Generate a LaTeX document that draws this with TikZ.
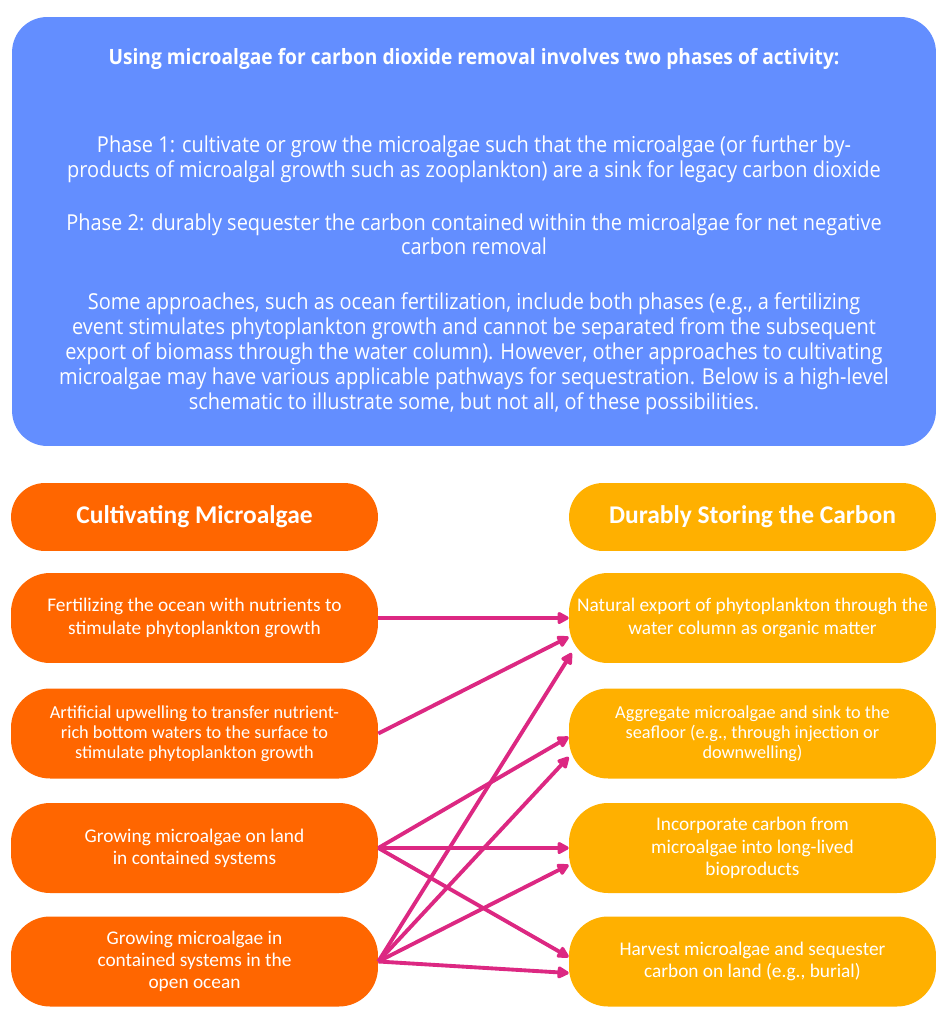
\documentclass[tikz,border=0pt]{standalone}
\usepackage{fontspec}
\setmainfont{Carlito}
\newfontfamily\introfont[FakeStretch=0.91]{Open Sans}
\usetikzlibrary{arrows.meta}

\definecolor{introblue}{HTML}{638EFF}
\definecolor{groworange}{HTML}{FF6600}
\definecolor{storeyellow}{HTML}{FFB000}
\definecolor{linkpink}{HTML}{DC2882}

\begin{document}
\begin{tikzpicture}[x=0.02cm, y=-0.02cm,
    pill/.style={rounded corners=0.78cm, minimum width=7.34cm, minimum height=1.8cm,
        align=center, text=white, inner sep=0pt, font=\fontsize{11}{12.7}\selectfont},
    headbox/.style={pill, rounded corners=0.68cm, minimum height=1.36cm,
        font=\bfseries\fontsize{14.5}{17}\selectfont},
    smalltext/.style={font=\fontsize{10.4}{11.4}\selectfont},
    growbox/.style={pill, fill=groworange},
    storebox/.style={pill, fill=storeyellow},
    link/.style={-{Triangle[length=7.5pt, width=7.5pt, round]}, linkpink, line width=2.2pt}]
        \useasboundingbox (0,0) rectangle (950,1024);

        \node[fill=introblue, rounded corners=0.7cm, minimum width=18.48cm, minimum height=8.58cm,
            text=white, align=center, font=\introfont\fontsize{12.5}{14.2}\selectfont] (intro) at (474,231.5)
            {{\bfseries\fontsize{12}{14.2}\selectfont Using microalgae for carbon dioxide removal involves two phases of activity:}\\[1.26cm]
            Phase 1: cultivate or grow the microalgae such that the microalgae (or further by-\\
            products of microalgal growth such as zooplankton) are a sink for legacy carbon dioxide\\[0.56cm]
            Phase 2: durably sequester the carbon contained within the microalgae for net negative\\
            carbon removal\\[0.6cm]
            Some approaches, such as ocean fertilization, include both phases (e.g., a fertilizing\\
            event stimulates phytoplankton growth and cannot be separated from the subsequent\\
            export of biomass through the water column). However, other approaches to cultivating\\
            microalgae may have various applicable pathways for sequestration. Below is a high-level\\
            schematic to illustrate some, but not all, of these possibilities.};

        \node[headbox, fill=groworange] (cultivate) at (194.5, 517) {Cultivating Microalgae};
        \node[headbox, fill=storeyellow] (storing) at (752.5, 517) {Durably Storing the Carbon};

        \node[growbox] (c0) at (194.5, 618) {Fertilizing the ocean with nutrients to\\ stimulate phytoplankton growth};
        \node[growbox, smalltext] (c1) at (194.5, 733.5) {Artificial upwelling to transfer nutrient-\\ rich bottom waters to the surface to\\ stimulate phytoplankton growth};
        \node[growbox] (c2) at (194.5, 848) {Growing microalgae on land\\ in contained systems};
        \node[growbox] (c3) at (194.5, 961.5) {Growing microalgae in\\ contained systems in the\\ open ocean};

        \node[storebox] (s0) at (752.5, 618) {Natural export of phytoplankton through the\\ water column as organic matter};
        \node[storebox, smalltext] (s1) at (752.5, 733.5) {Aggregate microalgae and sink to the\\ seafloor (e.g., through injection or\\ downwelling)};
        \node[storebox] (s2) at (752.5, 848) {Incorporate carbon from\\ microalgae into long-lived\\ bioproducts};
        \node[storebox] (s3) at (752.5, 961.5) {Harvest microalgae and sequester\\ carbon on land (e.g., burial)};

        \draw[link] (c0.east) -- (s0.west);
        \draw[link] (c1.east) -- ([yshift=-0.38cm]s0.west);
        \draw[link] (c2.east) -- ([yshift=-0.07cm]s1.west);
        \draw[link] (c2.east) -- (s2.west);
        \draw[link] (c2.east) -- ([yshift=0.09cm]s3.west);
        \draw[link] (c3.east) -- ([xshift=0.06cm, yshift=-0.7cm]s0.west);
        \draw[link] (c3.east) -- ([yshift=-0.47cm]s1.west);
        \draw[link] (c3.east) -- ([yshift=-0.34cm]s2.west);
        \draw[link] (c3.east) -- ([yshift=-0.23cm]s3.west);
    \end{tikzpicture}
\end{document}
